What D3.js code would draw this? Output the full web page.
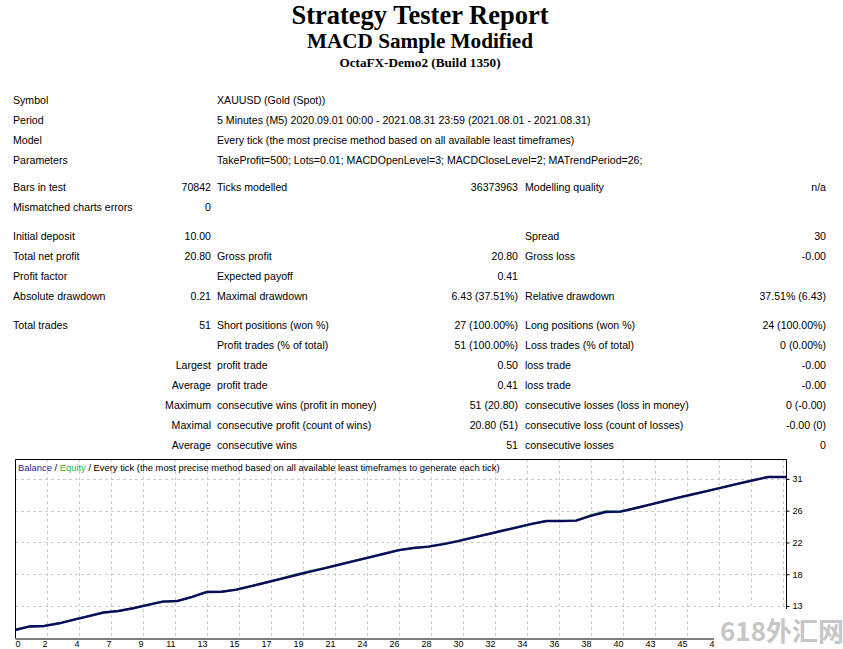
<!DOCTYPE html>
<html>
<head>
<meta charset="utf-8">
<script src="https://cdn.jsdelivr.net/npm/d3@7"></script>
<style>
  html, body { margin: 0; padding: 0; background: #fff; }
  svg { display: block; }
</style>
</head>
<body>
<svg id="chart" width="843" height="649"></svg>
<script>
// ---------------- DATA ----------------
const titleLines = ["Strategy Tester Report", "MACD Sample Modified", "OctaFX-Demo2 (Build 1350)"];

// report table rows: [label, value, label, value, label, value]
const reportRows = [
  ["Symbol", "", "XAUUSD (Gold (Spot))", "", "", ""],
  ["Period", "", "5 Minutes (M5) 2020.09.01 00:00 - 2021.08.31 23:59 (2021.08.01 - 2021.08.31)", "", "", ""],
  ["Model", "", "Every tick (the most precise method based on all available least timeframes)", "", "", ""],
  ["Parameters", "", "TakeProfit=500; Lots=0.01; MACDOpenLevel=3; MACDCloseLevel=2; MATrendPeriod=26;", "", "", ""],
  ["Bars in test", "70842", "Ticks modelled", "36373963", "Modelling quality", "n/a"],
  ["Mismatched charts errors", "0", "", "", "", ""],
  ["Initial deposit", "10.00", "", "", "Spread", "30"],
  ["Total net profit", "20.80", "Gross profit", "20.80", "Gross loss", "-0.00"],
  ["Profit factor", "", "Expected payoff", "0.41", "", ""],
  ["Absolute drawdown", "0.21", "Maximal drawdown", "6.43 (37.51%)", "Relative drawdown", "37.51% (6.43)"],
  ["Total trades", "51", "Short positions (won %)", "27 (100.00%)", "Long positions (won %)", "24 (100.00%)"],
  ["", "", "Profit trades (% of total)", "51 (100.00%)", "Loss trades (% of total)", "0 (0.00%)"],
  ["", "Largest", "profit trade", "0.50", "loss trade", "-0.00"],
  ["", "Average", "profit trade", "0.41", "loss trade", "-0.00"],
  ["", "Maximum", "consecutive wins (profit in money)", "51 (20.80)", "consecutive losses (loss in money)", "0 (-0.00)"],
  ["", "Maximal", "consecutive profit (count of wins)", "20.80 (51)", "consecutive loss (count of losses)", "-0.00 (0)"],
  ["", "Average", "consecutive wins", "51", "consecutive losses", "0"]
];

// balance after each trade (trade 0 = initial deposit)
const balance = [
  10.00, 10.48, 10.55, 10.91, 11.40, 11.89, 12.38, 12.58, 12.96, 13.41,
  13.85, 13.94, 14.50, 15.17, 15.20, 15.48, 15.97, 16.46, 16.95, 17.44,
  17.93, 18.41, 18.90, 19.39, 19.88, 20.37, 20.86, 21.15, 21.34, 21.68,
  22.09, 22.55, 23.02, 23.49, 23.96, 24.42, 24.82, 24.82, 24.87, 25.51,
  26.04, 26.10, 26.55, 27.04, 27.54, 28.03, 28.49, 28.96, 29.43, 29.90,
  30.36, 30.80
];
const equity = [
  10.00, 10.48, 10.55, 10.91, 11.40, 11.89, 12.38, 12.58, 12.96, 13.41,
  13.85, 13.94, 14.50, 15.17, 15.20, 15.48, 15.97, 16.46, 16.95, 17.52,
  18.00, 18.41, 18.90, 19.39, 19.88, 20.37, 20.86, 21.15, 21.34, 21.68,
  22.09, 22.55, 23.02, 23.49, 23.96, 24.42, 24.82, 24.82, 24.87, 25.60,
  26.12, 26.10, 26.55, 27.04, 27.54, 28.03, 28.49, 28.96, 29.43, 29.90,
  30.36, 30.80
];

const xTickLabels = ["0","2","4","7","9","11","13","15","17","19","21","24","26","28","30","32","34","36","38","40","43","45","47"];
const xTickStep = 2.1673;       // trades per grid division
const xMax = 52.22;             // right edge of plot in trades
const yTickValues = [13.26, 17.58, 21.9, 26.22, 30.54];
const yTickLabels = ["13", "18", "22", "26", "31"];
const yDomain = [8.91, 33.25];

const legendParts = [
  {text: "Balance", color: "#1f1f8f"},
  {text: " / ", color: "#000"},
  {text: "Equity", color: "#2fb52f"},
  {text: " / Every tick (the most precise method based on all available least timeframes to generate each tick)", color: "#000"}
];
const watermark = "618外汇网";

// ---------------- LAYOUT ----------------
const svg = d3.select("#chart");
const sans = "'Liberation Sans', Arial, sans-serif";
const serif = "'Liberation Serif', 'Times New Roman', serif";

// Titles
const titleSpec = [
  {y: 24, size: 26.5},
  {y: 48, size: 21.2},
  {y: 67, size: 13.2}
];
svg.selectAll("text.title").data(titleLines).join("text")
  .attr("class", "title")
  .attr("x", 420)
  .attr("y", (d, i) => titleSpec[i].y)
  .attr("text-anchor", "middle")
  .attr("font-family", serif)
  .attr("font-weight", "bold")
  .attr("font-size", (d, i) => titleSpec[i].size)
  .attr("fill", "#000")
  .text(d => d);

// Table
const rowBaselines = [104, 124, 144, 164, 191, 211, 240, 260, 280, 300, 329, 349, 369, 389, 409, 429, 449];
const colX = [13, 211, 217, 518, 525, 826];
const colAnchor = ["start", "end", "start", "end", "start", "end"];
const tableFont = 10.6;

const rowG = svg.selectAll("g.row").data(reportRows).join("g")
  .attr("class", "row")
  .attr("transform", (d, i) => `translate(0,${rowBaselines[i]})`);
rowG.selectAll("text").data(d => d.map((t, j) => ({t, j})).filter(c => c.t !== "")).join("text")
  .attr("x", c => colX[c.j])
  .attr("text-anchor", c => colAnchor[c.j])
  .attr("font-family", sans)
  .attr("font-size", tableFont)
  .attr("fill", "#000")
  .text(c => c.t);

// ---------------- CHART ----------------
const x = d3.scaleLinear().domain([0, xMax]).range([15, 786]);
const y = d3.scaleLinear().domain(yDomain).range([638, 459]);
const xTickValues = xTickLabels.map((d, i) => i * xTickStep);
const xGridValues = d3.range(1, 25).map(i => i * xTickStep);

const chart = svg.append("g");
chart.append("rect")
  .attr("x", x(0)).attr("y", y(yDomain[1]))
  .attr("width", x(xMax) - x(0)).attr("height", y(yDomain[0]) - y(yDomain[1]))
  .attr("fill", "#fff");

// grid
const grid = chart.append("g")
  .attr("stroke", "#cbcbcb").attr("stroke-width", 1).attr("stroke-dasharray", "3,3");
grid.selectAll("line.v").data(xGridValues).join("line")
  .attr("class", "v")
  .attr("x1", d => Math.round(x(d)) + 0.5).attr("x2", d => Math.round(x(d)) + 0.5)
  .attr("y1", y(yDomain[1])).attr("y2", y(yDomain[0]));
grid.selectAll("line.h").data(yTickValues).join("line")
  .attr("class", "h")
  .attr("y1", d => Math.round(y(d)) + 0.5).attr("y2", d => Math.round(y(d)) + 0.5)
  .attr("x1", x(0)).attr("x2", x(xMax));

// lines
const toPts = arr => arr.map((v, i) => [i, v]).concat([[xMax, arr[arr.length - 1]]]);
const line = d3.line().x(d => x(d[0])).y(d => y(d[1]));
chart.append("path").datum(toPts(equity))
  .attr("fill", "none").attr("stroke", "#36b04a").attr("stroke-width", 2.2)
  .attr("d", line);
chart.append("path").datum(toPts(balance))
  .attr("fill", "none").attr("stroke", "#0c0c5e").attr("stroke-width", 2.4)
  .attr("stroke-linejoin", "round")
  .attr("d", line);

// frame
const fx0 = Math.round(x(0)) + 0.5, fx1 = Math.round(x(xMax)) + 0.5;
const fy0 = Math.round(y(yDomain[1])) + 0.5, fy1 = Math.round(y(yDomain[0])) + 0.5;
chart.append("path")
  .attr("d", `M${fx1},${fy1}V${fy0}H${fx0}V${fy1}`)
  .attr("fill", "none").attr("stroke", "#000").attr("stroke-width", 1);

// bottom axis
const xAxis = d3.axisBottom(x).tickValues(xTickValues)
  .tickFormat((d, i) => xTickLabels[i]).tickSize(0).tickPadding(4);
const gx = chart.append("g").attr("transform", `translate(0,${fy1})`).call(xAxis);
gx.select(".domain").attr("stroke", "#000").attr("stroke-width", 1);
gx.selectAll("text")
  .attr("font-family", sans).attr("font-size", 9).attr("fill", "#000")
  .attr("text-anchor", (d, i) => i === 0 ? "start" : "end")
  .attr("dy", "0.55em");

// right axis
const yAxis = d3.axisRight(y).tickValues(yTickValues)
  .tickFormat((d, i) => yTickLabels[i]).tickSize(3).tickPadding(3);
const gy = chart.append("g").attr("transform", `translate(${fx1},0)`).call(yAxis);
gy.select(".domain").remove();
gy.selectAll("line").attr("stroke", "#000");
gy.selectAll("text").attr("font-family", sans).attr("font-size", 9).attr("fill", "#000");

// legend
const leg = chart.append("text")
  .attr("x", 18).attr("y", 471)
  .attr("font-family", sans).attr("font-size", 9.4);
leg.selectAll("tspan").data(legendParts).join("tspan")
  .attr("fill", d => d.color)
  .attr("xml:space", "preserve")
  .style("white-space", "pre")
  .text(d => d.text);

// watermark (covers the bottom-right corner of the chart)
svg.append("rect").attr("x", 714).attr("y", 609).attr("width", 129).attr("height", 40).attr("fill", "#fff");
svg.append("text")
  .attr("x", 720).attr("y", 641)
  .attr("font-family", "'Noto Sans CJK SC', sans-serif")
  .attr("font-weight", "bold")
  .attr("font-size", 26)
  .attr("fill", "#c6c6c6")
  .text(watermark);
</script>
</body>
</html>
